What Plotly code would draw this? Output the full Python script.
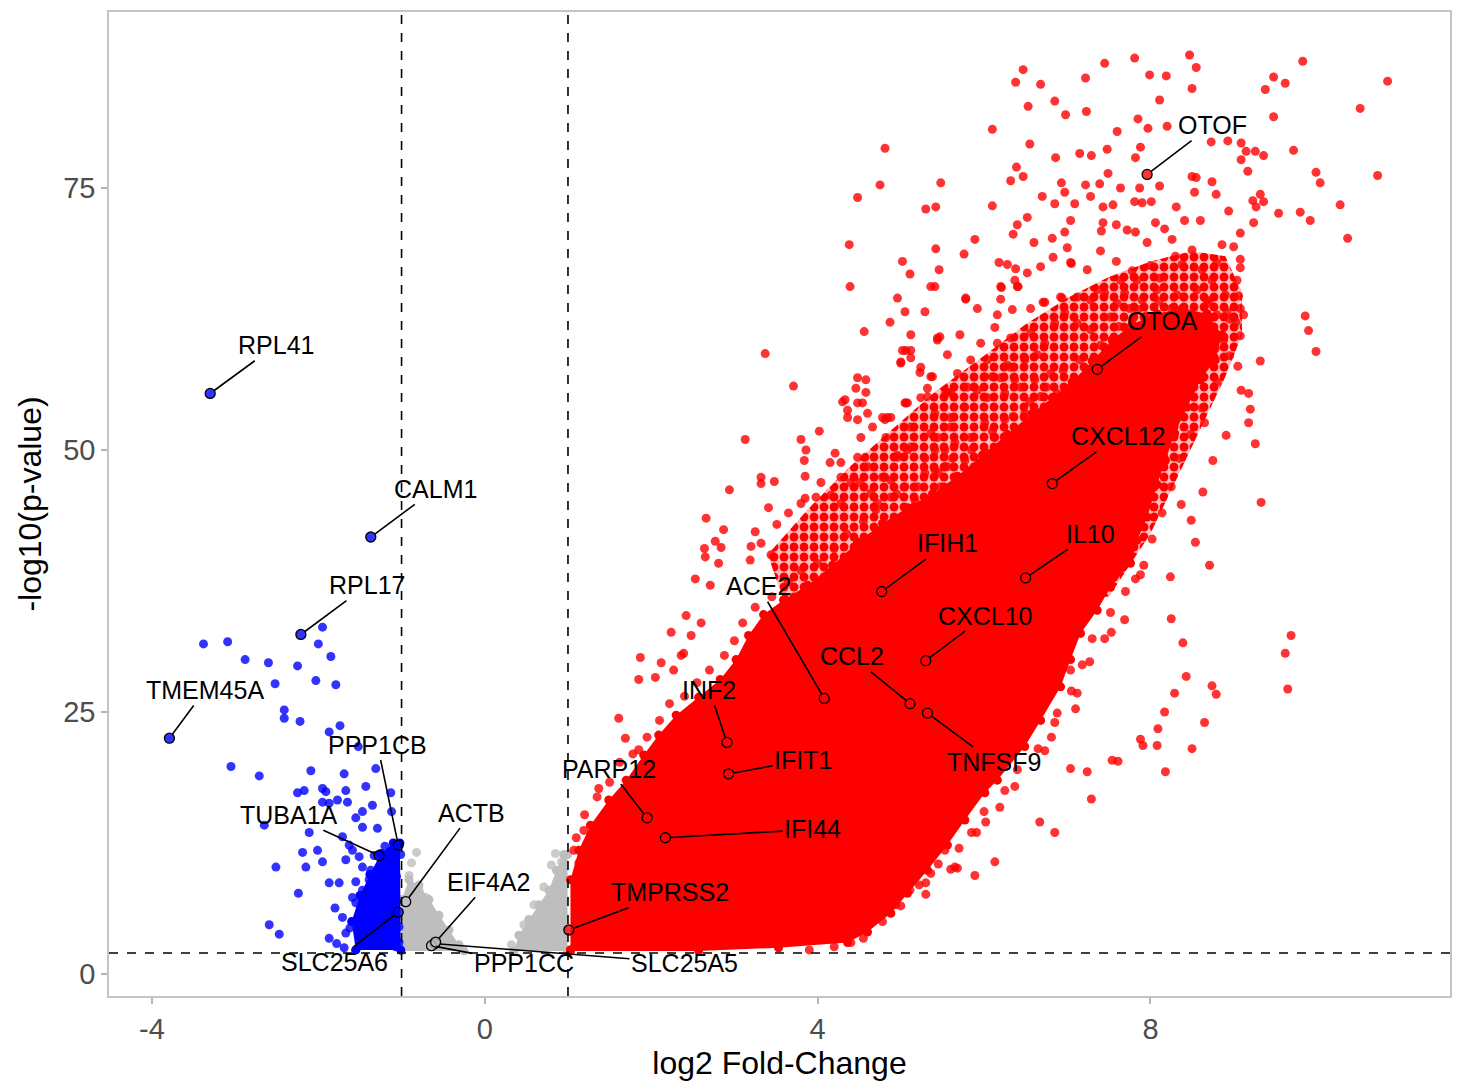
import plotly.graph_objects as go

# ---------------- data ----------------
# individual, separable "up" genes (log2FC, -log10 p)
red_points = [
(6.47,86.3),(6.38,85.1),(6.68,84.9),(7.22,85.5),(7.45,86.9),(7.81,87.4),(7.99,85.8),(8.19,85.7),(8.47,87.7),(8.55,86.5),
(8.50,84.5),(8.11,83.4),(6.53,82.8),(6.85,83.3),(6.98,82.0),(7.23,82.3),(6.10,80.6),(6.55,79.2),(6.86,77.9),(7.15,78.3),
(7.29,78.1),(7.48,78.7),(7.60,80.4),(7.85,81.6),(7.97,80.7),(7.88,78.9),(7.82,77.9),(8.20,80.9),(6.39,77.0),(6.32,75.7),
(6.47,76.1),(7.49,76.4),(6.93,75.5),(7.22,75.3),(6.97,74.6),(7.64,75.0),(7.87,75.0),(8.11,75.2),(6.10,73.3),(6.70,74.2),
(6.85,73.5),(7.09,73.5),(7.28,74.2),(7.43,73.2),(7.55,73.4),(7.81,73.7),(7.90,73.6),(8.01,73.7),(8.31,73.2),(8.50,76.1),
(8.55,76.0),(8.74,75.6),(8.53,74.6),(8.79,74.4),(8.73,79.4),(8.93,79.5),(9.09,79.3),(9.15,78.5),(9.26,78.5),(9.36,78.1),
(9.09,77.7),(9.17,76.6),(9.72,78.6),(9.48,85.6),(9.62,85.0),(9.38,84.4),(9.48,81.8),(9.83,87.1),(10.52,82.6),(10.85,85.2),
(10.73,76.2),(9.99,76.5),(10.04,75.5),(9.32,74.4),(9.23,73.8),(9.36,73.7),(9.27,73.2),(10.28,73.4),(8.94,72.8),(9.54,72.6),
(9.80,72.7),(9.92,71.9),(10.37,70.2),(9.24,71.7),(9.08,70.7),(4.81,78.8),(4.75,75.3),(4.48,74.1),(5.48,75.5),(5.30,73.0),
(5.42,73.2),(6.40,71.5),(6.35,70.6),(5.89,70.1),(5.76,68.7),(6.52,72.2),(6.82,70.2),(6.97,70.8),(7.04,71.9),(7.43,71.7),
(7.41,70.9),(7.59,71.5),(7.72,71.0),(7.82,70.8),(8.06,71.7),(8.17,71.1),(8.41,71.9),(8.60,71.9),(8.26,70.1),(7.96,69.8),
(6.18,67.9),(6.28,67.7),(6.38,67.3),(6.52,66.9),(6.68,67.5),(6.83,68.4),(7.05,67.8),(7.59,68.0),(7.78,67.1),(6.37,66.2),
(6.41,65.6),(6.21,65.5),(6.20,64.4),(5.78,64.4),(6.71,64.1),(6.94,64.5),(7.64,66.2),(8.11,66.4),
(9.00,69.4),(9.08,68.2),(9.08,67.4),(9.04,66.2),(9.06,64.7),(9.08,63.5),(9.12,62.9),(9.03,62.2),(9.08,60.9),(8.86,69.6),
(8.80,67.9),(8.74,66.2),(8.90,64.8),(8.68,64.3),(8.92,63.2),(8.56,65.3),(8.38,67.7),(8.50,69.1),(8.62,67.2),(8.32,64.8),
(8.08,65.3),(7.90,64.3),(7.84,66.2),(7.36,65.3),(7.24,67.2),(7.12,64.6),
(7.95,62.8),(8.25,63.5),(8.45,63.0),(8.80,62.9),(7.75,63.5),(8.00,67.6),(8.30,68.5),(7.40,69.0),(7.00,69.3),(6.60,69.8),
(9.86,62.8),(9.90,61.4),(9.99,59.4),(9.32,58.5),(9.05,58.0),(9.09,55.7),(9.18,55.4),(9.20,53.9),(9.18,52.6),(9.26,50.6),
(8.91,51.4),(8.75,49.0),(8.65,52.6),(8.63,46.0),(9.33,45.0),(8.37,44.8),(8.49,43.3),(8.54,41.2),(8.71,39.0),(8.24,37.9),
(8.25,33.9),(8.39,31.6),(8.43,28.4),(8.29,26.8),(8.74,27.5),(8.79,26.7),(9.69,32.3),(9.62,30.6),(9.65,27.2),(8.17,25.0),
(8.09,23.4),(8.65,24.0),(8.08,21.8),(8.50,21.5),(8.18,19.3),(9.00,62.7),(8.88,60.5),(8.78,59.7),(7.88,22.4),(7.91,21.8),
(7.54,20.4),(7.61,20.3),(7.04,19.6),(7.24,19.3),(7.29,16.7),(6.67,14.5),(6.85,13.5),(6.13,10.7),(5.89,9.4),(5.68,10.1),
(5.60,10.0),(5.30,7.6),(5.11,8.0),(7.12,26.8),(7.10,25.3),(6.88,24.9),(6.81,22.6),(6.73,21.3),(7.04,29.0),(7.27,29.8),
(7.45,32.0),(7.53,32.6),(7.69,33.8),(7.82,37.7),(7.88,38.1),(6.37,17.9),(6.19,15.9),(6.02,14.5),(5.91,13.5),(5.53,11.8),
(5.36,9.6),
(3.37,59.2),(3.71,56.1),(3.13,51.0),(4.02,51.8),(3.80,51.0),(3.86,50.0),(3.84,49.0),(3.85,47.5),(3.32,47.4),(3.48,47.0),
(3.32,46.8),(2.94,46.2),(3.41,44.5),(3.65,44.0),(3.85,45.4),(3.80,44.9),(2.66,43.5),(3.51,42.9),(3.25,42.2),(2.87,42.4),
(2.77,41.3),(2.64,40.6),(2.84,40.7),(2.65,39.8),(2.81,39.2),(2.53,37.7),(3.20,40.8),(3.32,41.1),(3.44,40.0),(3.19,39.5),
(2.71,37.1),(2.42,34.2),(2.60,33.5),(2.24,32.6),(2.48,32.3),(2.39,30.6),(1.87,30.2),(2.12,29.7),(1.85,28.1),(2.05,28.3),
(2.27,29.0),(1.61,24.4),(1.69,22.5),(1.85,21.4),(1.37,17.7),(1.19,13.7),(1.07,11.8),(1.13,10.6),(2.36,30.4),
(4.48,56.9),(4.58,56.7),(4.46,55.9),(4.58,55.5),(4.30,54.6),(4.36,53.8),(4.48,54.5),(4.60,53.5),(4.36,53.1),(4.48,52.9),
(4.66,52.2),(4.82,51.2),(4.52,51.2),(4.78,53.1),(4.88,53.1),(5.00,58.3),(5.12,59.5),(5.05,54.5),(5.23,57.4),(5.38,57.0),
(5.32,55.9),(5.24,55.0),(5.44,60.5),(5.56,59.1),(5.12,52.2),(4.21,49.7),(4.28,48.8),(4.15,48.8),(4.48,49.3),(4.57,49.3),
(4.28,47.4),(4.40,46.9),(4.51,46.9),(4.60,48.4),(4.78,47.4),(4.96,49.3),(5.08,50.0),(5.29,49.2),(5.41,48.1),(4.88,47.1),
(4.04,46.9),(3.98,45.5),(4.16,45.7),(4.28,44.9),(4.64,45.9),(4.72,44.9),(4.88,45.5),(5.05,46.5),(5.48,46.5),(5.56,48.4),
(5.53,50.0),(5.60,52.2),(5.44,51.2),(5.41,53.5),(5.60,55.5),
(4.96,64.5),(5.05,63.2),(4.87,62.2),(5.29,63.2),(5.36,65.6),(5.78,64.5),(5.92,63.5),(6.16,62.9),(6.34,63.4),(6.20,65.6),
(6.40,65.6),(6.56,63.5),(6.73,64.1),(6.92,64.6),(7.28,64.3),(7.45,65.0),(7.69,65.0),(7.60,64.0),(6.97,63.1),(6.85,62.1),
(7.12,62.1),(7.28,61.5),(7.52,62.7),(7.88,60.2),(5.44,60.7),(5.71,61.0),(5.96,60.2),(6.16,60.2),(5.12,61.0),(5.02,59.5),
(5.24,57.9),(5.00,58.4),(5.36,57.0),(5.68,57.3),(5.84,58.6),(6.04,58.6),(6.28,58.1),(6.49,58.8),(6.64,59.1),(6.80,57.3),
(6.61,56.7),(6.37,56.7),(6.20,56.9),(6.01,57.0),(5.80,56.0),(5.54,55.5),(5.32,55.1),(5.08,54.5),(4.81,52.9),(5.36,51.6),
(5.60,53.1),(5.77,54.1),(6.04,55.0),(6.25,55.4),(6.44,56.0),(6.68,55.1),(6.88,55.4),(7.04,56.0),(6.97,54.1),(6.73,53.5),
(6.49,53.5),(6.25,52.9),(6.01,52.6),(5.84,51.2),(5.65,50.7),(5.41,50.0),(5.12,50.3),(4.96,49.5),(4.81,47.4),(5.29,47.8),
(5.53,48.4),(5.77,49.0),(6.04,49.7),(6.32,50.0),(6.61,51.0),(7.21,52.9),(6.13,51.2),(6.40,51.2),(5.96,47.4),(5.72,46.9),
(5.17,45.2),
(4.38,69.6),(5.42,69.2),(5.02,68.0),(5.46,67.2),(5.11,66.8),(4.39,65.6),(5.41,65.6),(4.56,61.3),(5.47,60.8),(5.06,59.5),
(5.12,58.8),(4.33,54.8),(4.54,54.5),(4.84,53.1),(5.06,54.5),(5.56,55.5),(5.92,55.7),(6.10,57.0),(6.32,57.9),(6.49,58.6),
(6.32,60.7),(6.56,61.2),(6.73,60.2),(6.13,61.7),(7.04,67.9),(7.39,75.4),
(4.40,3.0),(4.94,6.6),(5.30,8.7),(5.65,10.2),
# fringe of the dense block, upper-left side
(1.10,13.0),(1.20,15.2),(1.35,16.9),(1.50,18.3),(1.62,20.2),(1.78,21.0),(1.95,22.6),(2.10,24.2),(2.22,25.8),(2.40,26.5),
(2.55,27.8),(2.70,29.0),(2.88,30.4),(3.00,31.8),(3.10,33.5),(3.25,35.0),(3.45,36.0),(3.65,37.4),(3.80,38.5),(4.00,39.2),
(4.20,40.6),(4.35,42.0),(4.55,43.2),(4.70,44.3),(4.95,45.8),(5.20,46.5),(5.45,47.8),(5.62,49.2),(5.85,50.0),(6.10,51.8),
(6.35,53.2),(6.55,54.6),(6.75,56.0),(6.95,57.6),(7.15,58.6),(7.40,60.0),(7.62,61.8),(7.85,63.4),(8.10,64.2),(8.40,64.6),
(8.70,64.0),(8.95,62.5),
# fringe of the dense block, lower-right side
(8.95,59.0),(8.80,56.5),(8.62,54.0),(8.48,51.5),(8.35,49.2),(8.25,46.5),(8.14,44.0),(8.02,41.5),(7.92,39.0),(7.70,36.5),
(7.52,34.5),(7.30,32.0),(7.18,29.5),(7.05,27.0),(6.85,24.0),(6.65,21.5),(6.40,19.5),(6.25,17.5),(6.00,15.5),(5.85,13.5),
(5.70,12.0),(5.45,10.5),(5.22,8.5),(5.00,6.5),(4.78,5.0),(4.55,3.4),(4.20,2.6),(3.90,2.3),
]

# outline of the solid, fully over-plotted block of "up" genes
red_core = [
(1.03,2.3),(1.03,9.0),(1.13,11.8),(1.27,14.2),(1.49,16.6),(1.70,18.5),(1.91,20.9),(2.09,22.8),(2.30,24.7),(2.57,26.4),
(2.83,28.1),(3.02,30.0),(3.17,32.3),(3.35,34.3),(3.59,35.7),(3.88,37.1),(4.18,39.0),(4.48,41.2),(4.78,43.0),(5.08,44.5),
(5.38,45.8),(5.68,47.5),(5.98,49.5),(6.28,51.5),(6.58,53.5),(6.82,55.0),(7.06,56.5),(7.30,58.5),(7.54,60.5),(7.78,62.0),
(8.08,63.0),(8.38,63.5),(8.68,63.0),(8.86,61.0),(8.78,58.6),(8.60,56.7),(8.44,54.1),(8.29,51.6),(8.18,49.0),(8.08,46.7),
(7.96,43.6),(7.84,41.4),(7.76,39.2),(7.52,36.9),(7.36,34.7),(7.16,32.5),(7.04,30.0),(6.92,27.4),(6.68,24.2),(6.49,21.7),
(6.16,18.5),(6.01,17.3),(5.77,14.7),(5.56,12.3),(5.32,9.9),(5.08,7.7),(4.88,5.8),(4.60,4.0),(4.36,3.0),(3.53,2.5),
(2.57,2.2),(1.03,2.2),
]

# outline of the busy (partly over-plotted) zone above the solid block
red_busy = [
(3.40,40.0),(3.90,44.5),(4.40,48.5),(4.90,52.0),(5.40,55.5),(6.00,59.0),(6.50,62.0),(7.00,64.5),(7.50,66.5),(8.00,68.0),
(8.50,69.0),(8.90,68.5),(9.10,65.0),(9.10,61.0),(8.90,57.0),(8.60,52.0),(8.30,47.0),(8.00,42.0),(7.50,36.0),(5.00,36.0),
(3.60,35.5),
]

blue_points = [
(-3.38,31.5),(-3.09,31.7),(-2.88,30.0),(-2.60,29.7),(-2.52,27.7),(-2.25,29.4),(-2.03,28.0),(-1.95,33.1),(-2.00,31.5),(-1.85,30.3),
(-1.79,27.6),(-2.41,25.2),(-2.41,24.4),(-2.22,24.1),(-1.74,23.7),(-1.87,23.1),(-1.52,21.7),(-3.05,19.8),(-2.71,18.9),(-2.09,19.4),
(-1.69,19.1),(-1.31,19.6),(-1.43,17.9),(-1.67,17.5),(-1.95,17.7),(-1.91,17.4),(-2.25,17.3),(-2.17,17.5),(-1.13,17.3),(-1.77,16.6),
(-1.65,16.4),(-1.95,16.4),(-1.87,16.3),(-1.35,16.1),(-1.12,15.5),(-1.47,15.5),(-1.55,14.9),(-2.65,14.2),(-2.11,13.5),(-1.71,13.1),
(-1.47,14.0),(-1.29,13.9),(-1.63,12.3),(-1.59,11.8),(-2.19,11.6),(-2.01,11.8),(-2.15,10.2),(-1.95,10.7),(-2.51,10.2),(-1.67,10.9),
(-1.51,11.2),(-1.47,10.2),(-1.37,9.9),(-1.19,10.9),(-1.07,10.2),(-1.01,11.4),(-1.12,9.6),(-1.24,9.6),(-1.87,8.7),(-1.75,8.7),
(-1.55,8.8),(-1.39,9.0),(-1.47,8.0),(-1.31,7.7),(-1.15,8.0),(-1.07,7.1),(-2.24,7.7),(-1.55,6.8),(-1.39,6.4),(-1.15,6.4),
(-1.71,5.4),(-1.47,5.4),(-1.31,5.2),(-1.07,5.4),(-2.59,4.7),(-2.47,3.8),(-1.87,3.4),(-1.67,3.9),(-1.47,3.9),(-1.24,4.2),
(-1.12,3.5),(-1.69,2.5),(-1.39,3.0),(-1.24,3.0),(-1.07,2.6),(-1.15,5.2),(-1.35,4.2),(-1.55,4.9),(-1.24,7.1),(-1.03,4.5),
(-1.03,3.0),(-1.59,7.3),(-1.06,9.3),(-1.80,6.3),(-1.62,4.4),(-1.78,2.9),(-1.20,12.2),(-1.33,11.3),
]

blue_core = [
(-1.55,2.3),(-1.60,5.0),(-1.50,7.5),(-1.38,9.5),(-1.25,11.5),(-1.10,12.5),(-1.02,12.5),(-1.01,2.3),
]

grey_points = [
(-0.82,11.6),(-0.91,9.4),(-0.88,10.6),(-0.71,7.3),(-0.67,6.4),(-0.79,8.0),(-0.47,3.9),(-0.43,3.2),(-0.85,6.6),(-0.73,5.6),
(0.85,11.5),(0.89,9.7),(0.71,8.3),(0.59,6.6),(0.47,4.7),(0.32,2.8),(0.80,10.4),(0.92,10.7),
]

grey_core_left = [
(-1.00,2.2),(-1.00,7.1),(-0.91,9.0),(-0.79,8.5),(-0.67,7.1),(-0.55,5.6),(-0.43,4.2),(-0.31,2.8),(-0.25,2.2),
]
grey_core_right = [
(0.35,2.2),(0.41,3.7),(0.53,5.2),(0.65,6.6),(0.77,8.0),(0.86,9.9),(0.95,11.4),(0.995,11.4),(0.995,2.2),
]

# highlighted genes
genes = ["OTOF", "OTOA", "CXCL12", "IL10", "IFIH1", "CXCL10", "CCL2", "TNFSF9", "ACE2", "INF2",
         "IFIT1", "PARP12", "IFI44", "TMPRSS2", "SLC25A5", "PPP1CC", "EIF4A2", "ACTB", "SLC25A6",
         "PPP1CB", "TUBA1A", "TMEM45A", "RPL17", "CALM1", "RPL41"]
gene_lfc = [7.96, 7.36, 6.82, 6.50, 4.77, 5.30, 5.11, 5.32, 4.08, 2.91,
            2.93, 1.95, 2.17, 1.01, -0.60, -0.64, -0.59, -0.95, -1.04,
            -1.04, -1.27, -3.79, -2.21, -1.37, -3.30]
gene_logp = [76.3, 57.7, 46.8, 37.8, 36.5, 29.9, 25.8, 24.9, 26.3, 22.1,
             19.1, 14.9, 13.0, 4.2, 2.9, 2.7, 3.05, 6.9, 5.9,
             12.3, 11.3, 22.5, 32.4, 41.7, 55.4]
gene_group = ["up"] * 14 + ["ns"] * 4 + ["down"] * 7

# repelled label placement (layout, not data)
label_lfc = [8.74, 8.15, 7.61, 7.28, 5.56, 6.02, 4.41, 6.12, 3.29, 2.70,
             3.83, 1.49, 3.94, 2.23, 2.40, 0.47, 0.05, -0.16, -1.81,
             -1.29, -2.35, -3.36, -1.41, -0.59, -2.51]
label_logp = [81.0, 62.3, 51.3, 42.0, 41.1, 34.2, 30.3, 20.2, 37.0, 27.1,
              20.4, 19.6, 13.8, 7.8, 1.05, 1.05, 8.8, 15.4, 1.15,
              21.9, 15.2, 27.1, 37.1, 46.3, 60.0]

# thresholds
lfc_cut = 1.0
logp_cut = 2.0

x_ticks = [-4, 0, 4, 8]
x_tick_text = ["-4", "0", "4", "8"]
y_ticks = [0, 25, 50, 75]

# ---------------- styling ----------------
col = {"up": "rgb(255,0,0)", "down": "rgb(0,0,255)", "ns": "rgb(190,190,190)"}
col_a = {"up": "rgba(255,0,0,0.8)", "down": "rgba(0,0,255,0.8)", "ns": "rgba(190,190,190,0.8)"}
FONT = "Liberation Sans, Arial, sans-serif"
MS = 9

fig = go.Figure()


def closed(pts):
    return [p[0] for p in pts] + [pts[0][0]], [p[1] for p in pts] + [pts[0][1]]


def add_block(pts, c):
    xs, ys = closed(pts)
    fig.add_trace(go.Scatter(x=xs, y=ys, mode="lines+markers", fill="toself",
                             fillcolor=c, line=dict(width=0, color=c),
                             marker=dict(size=MS, color=c), hoverinfo="skip",
                             showlegend=False))


def add_busy(pts, c):
    xs, ys = closed(pts)
    fig.add_trace(go.Scatter(x=xs, y=ys, mode="lines", fill="toself",
                             fillcolor="rgba(255,0,0,0.3)", line=dict(width=0, color="rgba(0,0,0,0)"),
                             fillpattern=dict(shape=".", size=10, solidity=0.62, fgopacity=1,
                                              fgcolor=c, bgcolor="rgba(255,60,60,0.35)",
                                              fillmode="replace"),
                             hoverinfo="skip", showlegend=False))


def add_points(pts, c):
    fig.add_trace(go.Scatter(x=[p[0] for p in pts], y=[p[1] for p in pts],
                             mode="markers", marker=dict(size=MS, color=c, line=dict(width=0)),
                             hoverinfo="skip", showlegend=False))


add_block(grey_core_left, col["ns"])
add_block(grey_core_right, col["ns"])
add_points(grey_points, col_a["ns"])
add_block(blue_core, col["down"])
add_points(blue_points, col_a["down"])
add_busy(red_busy, "rgb(255,0,0)")
add_block(red_core, col["up"])
add_points(red_points, col_a["up"])

# highlighted genes
fig.add_trace(go.Scatter(x=gene_lfc, y=gene_logp, mode="markers",
                         marker=dict(size=10, color=[col_a[g] for g in gene_group],
                                     line=dict(width=1.3, color="black")),
                         text=genes, showlegend=False))

for g, x, y, lx, ly in zip(genes, gene_lfc, gene_logp, label_lfc, label_logp):
    fig.add_annotation(x=x, y=y, ax=lx, ay=ly, axref="x", ayref="y", xref="x", yref="y",
                       text=g, showarrow=True, arrowhead=0, arrowwidth=1.6,
                       arrowcolor="black", standoff=5, startstandoff=0,
                       font=dict(size=25, color="black", family=FONT))

# threshold lines
for xv in (-lfc_cut, lfc_cut):
    fig.add_shape(type="line", x0=xv, x1=xv, y0=0, y1=1, xref="x", yref="paper",
                  line=dict(color="black", width=1.6, dash="dash"), layer="above")
fig.add_shape(type="line", x0=0, x1=1, y0=logp_cut, y1=logp_cut, xref="paper", yref="y",
              line=dict(color="black", width=1.6, dash="dash"), layer="above")

axis_common = dict(showgrid=False, zeroline=False, showline=True, mirror=True,
                   linecolor="#c4c4c4", linewidth=1.5, ticks="outside", ticklen=6,
                   tickcolor="#b5b5b5", tickwidth=1.5,
                   tickfont=dict(size=29, color="#4d4d4d", family=FONT))

fig.update_xaxes(range=[-4.516, 11.6], tickvals=x_ticks, ticktext=x_tick_text,
                 title=dict(text="log2 Fold-Change", font=dict(size=32, color="black", family=FONT),
                            standoff=8), **axis_common)
fig.update_yaxes(range=[-2.1, 91.8], tickvals=y_ticks,
                 title=dict(text="-log10(p-value)", font=dict(size=32, color="black", family=FONT),
                            standoff=12), **axis_common)

fig.update_layout(width=1461, height=1089, margin=dict(l=109, r=9, t=12, b=93),
                  plot_bgcolor="white", paper_bgcolor="white",
                  font=dict(family=FONT), showlegend=False)

fig.write_html("out.html", config={"displayModeBar": False},
               post_script="document.body.style.margin='0';")
